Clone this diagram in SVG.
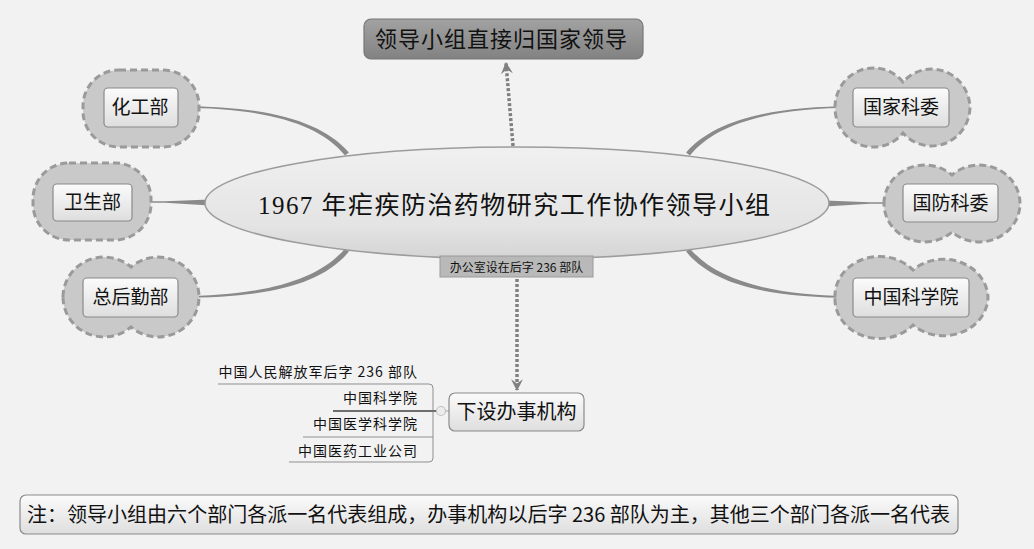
<svg xmlns="http://www.w3.org/2000/svg" width="1034" height="549" viewBox="0 0 1034 549">
<style>
.cjk{font-family:'Noto Sans CJK SC','Noto Sans',sans-serif;fill:#111}
.cloud{fill:#c9c9c9;stroke:#9a9a9a;stroke-width:3;stroke-dasharray:7 4}
.box{fill:url(#btn);stroke:#8a8a8a;stroke-width:1.2}
.leaf{font-size:19px;text-anchor:middle}
.conn{fill:#8a8a8a}
.dot{fill:none;stroke:#808080;stroke-width:3.5;stroke-dasharray:3 2}
.list{fill:none;stroke:#8f8f8f;stroke-width:1}
.li{font-size:14px;text-anchor:end;letter-spacing:1px}
</style>
<defs>
<linearGradient id="btn" x1="0" y1="0" x2="0" y2="1">
<stop offset="0" stop-color="#fbfbfb"/><stop offset="1" stop-color="#dedede"/>
</linearGradient>
<linearGradient id="top" x1="0" y1="0" x2="0" y2="1">
<stop offset="0" stop-color="#a2a2a2"/><stop offset="1" stop-color="#828282"/>
</linearGradient>
<linearGradient id="ell" x1="0" y1="0" x2="0" y2="1">
<stop offset="0" stop-color="#f0f0f0"/><stop offset="0.7" stop-color="#e4e4e4"/><stop offset="1" stop-color="#d4d4d4"/>
</linearGradient>
<marker id="arr" viewBox="0 0 12 12" refX="10" refY="6" markerWidth="13" markerHeight="13" markerUnits="userSpaceOnUse" orient="auto">
<path d="M0,0.5 L11,6 L0,11.5 L4,6 Z" fill="#808080"/>
</marker>
</defs>
<rect x="0" y="0" width="1034" height="549" fill="#f2f2f2"/>

<g id="connectors">
<path class="conn" d="M180,106.2 C265,106 321,120.5 348.9,152.4 L345.1,155.6 C319,123.5 265,108 180,107.8 Z"/>
<path class="conn" d="M131,201.3 L165,201.3 L210,199.5 L210,205.5 L165,202.7 L131,202.7 Z"/>
<path class="conn" d="M178,296.2 C265,296 319,279.5 345.1,248.4 L348.9,251.6 C321,285.5 265,298 178,297.8 Z"/>
<path class="conn" d="M855,106.2 C770,106 714,120.5 686.1,152.4 L689.9,155.6 C716,123.5 770,108 855,107.8 Z"/>
<path class="conn" d="M904,202.3 L870,202.3 L825,200.5 L825,206.5 L870,203.7 L904,203.7 Z"/>
<path class="conn" d="M855,296.2 C770,296 716,279.5 689.9,248.4 L686.1,251.6 C714,285.5 770,298 855,297.8 Z"/>
<path class="dot" d="M513,146 L506,63" marker-end="url(#arr)"/>
<path class="dot" d="M517,279 L517,390" marker-end="url(#arr)"/>
<path class="list" d="M218,384 H429 Q433,384 433,388 V458 Q433,462 429,462 H289"/>
<path class="list" d="M303,437 H433"/>
<path d="M333,411 H436.5" fill="none" stroke="#6e6e6e" stroke-width="2"/>
<path d="M445.5,411 H449" fill="none" stroke="#bdbdbd" stroke-width="1.5"/>
<circle cx="441" cy="411" r="4.5" fill="#ececec" stroke="#c2c2c2" stroke-width="1.2"/>
</g>

<g id="center">
<ellipse cx="517" cy="203" rx="312" ry="56" fill="url(#ell)" stroke="#9c9c9c" stroke-width="1.5"/>
<text x="258" y="214" font-size="25" textLength="512" lengthAdjust="spacing" style="font-family:'Liberation Serif','Noto Sans CJK SC',serif;fill:#111">1967 年疟疾防治药物研究工作协作领导小组</text>
</g>

<g id="office">
<rect x="440" y="256" width="153" height="21" fill="#b9b9b9" stroke="#9a9a9a" stroke-width="1"/>
<text class="cjk" x="516.5" y="271.5" font-size="12" text-anchor="middle">办公室设在后字 236 部队</text>
</g>

<g id="top-node">
<rect x="364" y="19" width="279" height="40" rx="7" fill="url(#top)" stroke="#777" stroke-width="1.2"/>
<text class="cjk" x="375" y="47" font-size="22" textLength="252" lengthAdjust="spacing">领导小组直接归国家领导</text>
</g>

<g id="node-huagong">
<rect class="cloud" x="83" y="70" width="116" height="77" rx="36" ry="36"/>
<rect class="box" x="104" y="88" width="74" height="39" rx="4"/>
<text class="cjk leaf" x="140" y="114">化工部</text>
</g>
<g id="node-weisheng">
<rect class="cloud" x="33" y="163" width="118" height="77" rx="36" ry="36"/>
<rect class="box" x="53" y="184" width="79" height="37" rx="4"/>
<text class="cjk leaf" x="92.5" y="209">卫生部</text>
</g>
<g id="node-zonghou">
<path class="cloud" d="M63,297 A41,40 0 0 1 131,267 A41,40 0 0 1 199,297 A41,40 0 0 1 131,327 A41,40 0 0 1 63,297 Z"/>
<rect class="box" x="83" y="278" width="95" height="39" rx="4"/>
<text class="cjk leaf" x="130.5" y="304">总后勤部</text>
</g>
<g id="node-guojiakewei">
<path class="cloud" d="M835,107.5 A38.5,39.5 0 0 1 903,82 A38.5,39.5 0 0 1 970,107.5 A38.5,39.5 0 0 1 903,133 A38.5,39.5 0 0 1 835,107.5 Z"/>
<rect class="box" x="853" y="88" width="96" height="39" rx="4"/>
<text class="cjk leaf" x="901" y="114">国家科委</text>
</g>
<g id="node-guofangkewei">
<path class="cloud" d="M884,203.5 A40.7,38.5 0 0 1 952,175 A40.7,38.5 0 0 1 1020,203.5 A40.7,38.5 0 0 1 952,232 A40.7,38.5 0 0 1 884,203.5 Z"/>
<rect class="box" x="903" y="184" width="95" height="38" rx="4"/>
<text class="cjk leaf" x="950.5" y="210">国防科委</text>
</g>
<g id="node-zhongkeyuan">
<path class="cloud" d="M835,297.5 A44.5,39.5 0 0 1 913,270 A44.5,39.5 0 0 1 988,297.5 A44.5,39.5 0 0 1 913,325 A44.5,39.5 0 0 1 835,297.5 Z"/>
<rect class="box" x="853" y="278" width="116" height="39" rx="4"/>
<text class="cjk leaf" x="911" y="304">中国科学院</text>
</g>

<g id="node-banshi">
<rect class="box" x="449" y="393" width="135" height="38" rx="6"/>
<text class="cjk" x="516.5" y="419" font-size="20" text-anchor="middle">下设办事机构</text>
</g>

<g id="list">
<text class="cjk li" x="418" y="377">中国人民解放军后字 236 部队</text>
<text class="cjk li" x="418" y="403">中国科学院</text>
<text class="cjk li" x="418" y="429">中国医学科学院</text>
<text class="cjk li" x="418" y="456">中国医药工业公司</text>
</g>

<g id="note">
<rect class="box" x="20" y="495" width="938" height="39" rx="6"/>
<text class="cjk" x="27" y="522" font-size="20" textLength="923" lengthAdjust="spacingAndGlyphs">注：领导小组由六个部门各派一名代表组成，办事机构以后字 236 部队为主，其他三个部门各派一名代表</text>
</g>
</svg>
